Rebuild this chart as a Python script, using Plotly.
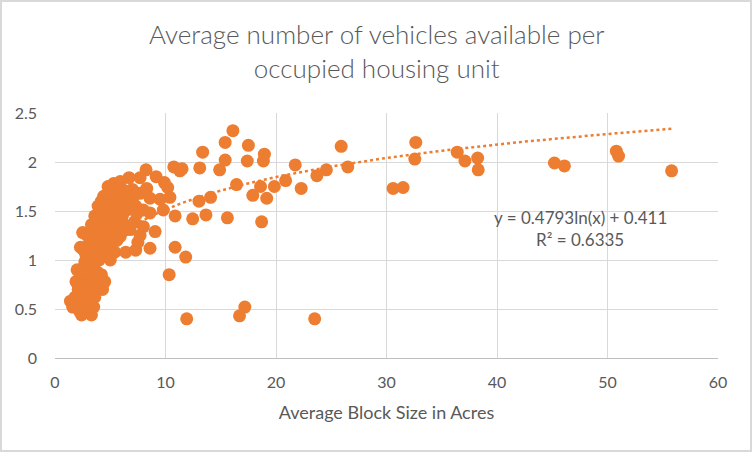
import numpy as np
import plotly.graph_objects as go

# Average block size (acres) and average vehicles per occupied housing unit
# Dense cluster (small blocks)
cluster_x = [1.4, 1.6, 1.8, 2.0, 2.2, 2.4, 2.6, 2.8, 3.0, 3.3, 3.5, 2.1, 2.5, 2.9, 3.2, 3.6, 1.9, 2.3,
             2.7, 3.1, 3.5, 4.0, 4.3, 4.5, 2.0, 2.6, 3.0, 3.4, 3.8, 4.2, 1.7, 2.2, 3.0, 3.3, 2.4,
             2.3, 2.5, 2.8, 3.0, 3.2, 3.3, 3.6, 3.7, 3.9, 4.0, 4.2, 4.4, 4.6, 4.8, 5.0, 5.2, 5.4,
             5.6, 5.9, 6.2, 6.4, 7.3, 7.5, 7.7, 8.6, 9.06, 2.9, 3.5, 4.1, 3.4, 3.8, 2.6,
             3.3, 3.6, 3.9, 4.1, 4.4, 4.4, 4.7, 4.8, 5.0, 5.3, 5.3, 5.6, 5.6, 5.8, 6.0, 6.2, 6.3,
             6.5, 6.7, 6.8, 6.8, 7.0, 7.2, 7.3, 7.7, 7.7, 8.0, 8.0, 8.24, 8.3, 8.6, 8.6, 9.15,
             9.5, 9.8, 9.9, 10.2, 10.4, 4.6, 5.0, 5.8, 6.0, 6.5, 4.2, 3.8, 5.2, 5.5, 7.4, 6.1,
             4.8, 5.1, 5.5, 4.5, 4.0, 3.6, 3.1, 2.7, 2.5, 6.6, 7.0, 5.9, 4.9, 4.3]
cluster_y = [0.58, 0.52, 0.62, 0.55, 0.48, 0.44, 0.52, 0.60, 0.48, 0.44, 0.52, 0.70, 0.68, 0.72, 0.65, 0.62, 0.78, 0.82,
             0.80, 0.85, 0.78, 0.72, 0.70, 0.78, 0.90, 0.92, 0.95, 0.90, 0.88, 0.85, 0.55, 0.60, 0.58, 0.75, 0.75,
             1.13, 1.28, 1.05, 1.15, 1.25, 1.00, 1.05, 1.18, 1.30, 1.00, 1.12, 1.22, 1.05, 1.15, 1.00, 1.25, 1.08,
             1.20, 1.24, 1.30, 1.08, 1.10, 1.18, 1.25, 1.12, 1.29, 1.25, 1.35, 1.40, 0.97, 1.00, 1.10,
             1.36, 1.45, 1.55, 1.44, 1.51, 1.65, 1.58, 1.75, 1.45, 1.78, 1.55, 1.44, 1.77, 1.62, 1.50, 1.37, 1.61,
             1.51, 1.84, 1.65, 1.31, 1.72, 1.39, 1.55, 1.84, 1.68, 1.51, 1.34, 1.92, 1.73, 1.63, 1.48, 1.85,
             1.62, 1.51, 1.79, 1.74, 1.64, 1.35, 1.30, 1.35, 1.73, 1.70, 1.60, 1.42, 1.65, 1.50, 1.47, 1.45,
             1.68, 1.40, 1.30, 1.20, 1.25, 1.10, 1.05, 0.98, 0.88, 1.55, 1.62, 1.80, 1.55, 1.30]

# Larger blocks
tail_x = [16.1, 15.4, 17.5, 13.36, 18.95, 15.4, 17.4, 18.86, 10.75, 11.3, 11.5, 13.1, 14.9, 21.74,
          25.9, 26.5, 24.56, 23.7, 20.87, 19.85, 18.6, 22.28, 16.43, 17.9, 19.16, 14.08, 13.03,
          10.87, 12.46, 13.66, 15.6, 18.7, 10.87, 11.83, 10.33, 17.18, 16.7, 11.92, 23.5,
          30.6, 31.5, 32.65, 32.56, 36.4, 37.1, 38.25, 38.3, 45.2, 46.1, 50.8, 51.0, 55.8]
tail_y = [2.32, 2.20, 2.17, 2.10, 2.08, 2.02, 2.01, 2.01, 1.95, 1.91, 1.93, 1.94, 1.92, 1.97,
          2.16, 1.95, 1.92, 1.86, 1.81, 1.75, 1.75, 1.73, 1.77, 1.66, 1.63, 1.64, 1.60,
          1.45, 1.42, 1.46, 1.43, 1.39, 1.13, 1.03, 0.85, 0.52, 0.43, 0.40, 0.40,
          1.73, 1.74, 2.20, 2.03, 2.10, 2.01, 2.04, 1.92, 1.99, 1.96, 2.11, 2.06, 1.91]

# Logarithmic trendline coefficients (as shown on the chart)
trend_a = 0.4793
trend_b = 0.411
r_squared = 0.6335

title_lines = ["Average number of vehicles available per", "occupied housing unit"]
x_title = "Average Block Size in Acres"

x_all = np.array(cluster_x + tail_x)
y_all = np.array(cluster_y + tail_y)

ORANGE = "#ED7D31"
TEXT = "#595959"
GRID = "#D9D9D9"
FONT = "Lato"

tx = np.linspace(x_all.min(), x_all.max(), 300)
ty = trend_a * np.log(tx) + trend_b

fig = go.Figure()
fig.add_trace(go.Scatter(x=tx, y=ty, mode="lines",
                         line=dict(color=ORANGE, width=2.5, dash="dot"),
                         hoverinfo="skip", showlegend=False))
fig.add_trace(go.Scatter(x=x_all, y=y_all, mode="markers",
                         marker=dict(color=ORANGE, size=13, line=dict(width=0)),
                         showlegend=False))

W, H = 752, 452
L, R, T, B = 55, 34, 113, 94
pw, ph = W - L - R, H - T - B


def py(p):
    """pixel row from top -> paper y"""
    return (H - B - p) / ph


def px(p):
    return (p - L) / pw


fig.update_layout(
    width=W, height=H,
    margin=dict(l=L, r=R, t=T, b=B),
    paper_bgcolor="white", plot_bgcolor="white",
    font=dict(family=FONT, color=TEXT),
    xaxis=dict(range=[0, 60], dtick=10, showgrid=True, gridcolor=GRID, gridwidth=1,
               zeroline=False, showline=True, linecolor="#BFBFBF", linewidth=1,
               ticks="", tickfont=dict(size=16, color=TEXT), ticklabelstandoff=10,
               title=dict(text=x_title, font=dict(size=18, color=TEXT), standoff=16)),
    yaxis=dict(range=[0, 2.5], dtick=0.5, showgrid=True, gridcolor=GRID, gridwidth=1,
               zeroline=False, showline=False, ticks="", tickfont=dict(size=16, color=TEXT),
               ticklabelstandoff=17),
    annotations=[
        dict(x=px(376), y=py(51), xref="paper", yref="paper", showarrow=False,
             xanchor="center", yanchor="middle", align="center",
             text="<br>".join(title_lines),
             font=dict(size=26, color=TEXT, family=FONT, weight=300)),
        dict(x=px(580), y=py(217), xref="paper", yref="paper", showarrow=False,
             xanchor="center", yanchor="middle", height=20,
             text=f"y = {trend_a}ln(x) + {trend_b}", font=dict(size=17, color=TEXT)),
        dict(x=px(580), y=py(239), xref="paper", yref="paper", showarrow=False,
             xanchor="center", yanchor="middle", height=20,
             text=f"R² = {r_squared}", font=dict(size=17, color=TEXT)),
    ],
    shapes=[dict(type="rect", xref="paper", yref="paper",
                 x0=px(1), x1=px(W - 1), y0=py(H - 1), y1=py(1),
                 line=dict(color=GRID, width=2), fillcolor="rgba(0,0,0,0)", layer="below")],
)

fig.write_html("out.html", config={"displayModeBar": False},
               post_script="document.body.style.margin='0px';document.body.style.overflow='hidden';")
